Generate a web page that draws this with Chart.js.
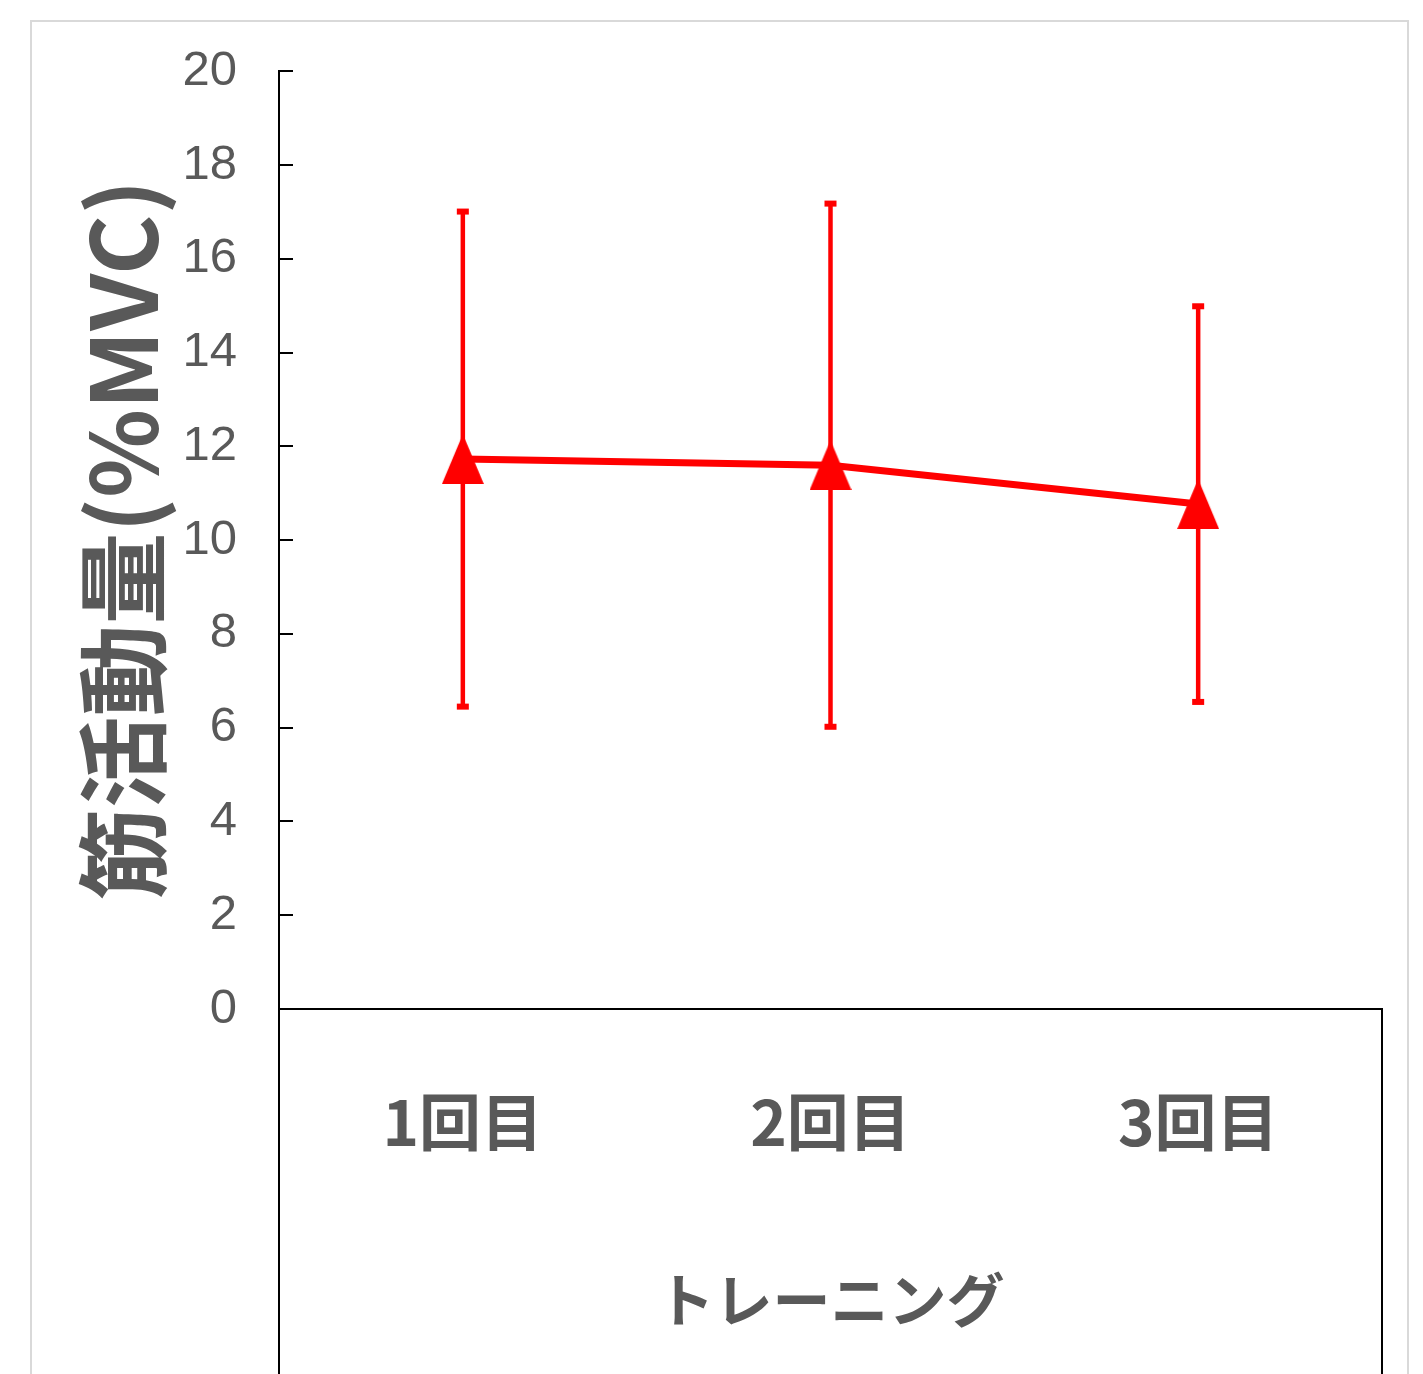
<!DOCTYPE html>
<html lang="ja">
<head>
<meta charset="utf-8">
<title>筋活動量</title>
<script src="https://cdn.jsdelivr.net/npm/chart.js@4.4.1/dist/chart.umd.min.js"></script>
<style>
  html, body { margin: 0; padding: 0; background: #ffffff; }
  #wrap { position: relative; width: 1423px; height: 1374px; overflow: hidden; }
  canvas { display: block; }
</style>
</head>
<body>
<div id="wrap"><canvas id="chart" width="1423" height="1374"></canvas></div>
<script>
// Training sessions and mean muscle activity (%MVC) with standard deviation
const categories = ['1回目', '2回目', '3回目'];
const meanValues = [11.73, 11.6, 10.77];
const sdValues = [5.28, 5.58, 4.22];
const yTickValues = [0, 2, 4, 6, 8, 10, 12, 14, 16, 18, 20];

const RED = '#ff0000';
const GREY_TEXT = '#595959';
const AXIS = '#000000';
const JP_FONT = '"Noto Sans CJK JP", "Noto Sans", sans-serif';
const NUM_FONT = '"Liberation Sans Narrow", "Liberation Sans", sans-serif';

// Tall triangle marker
function makeTriangle(w, h, color) {
  const c = document.createElement('canvas');
  c.width = w; c.height = h;
  const g = c.getContext('2d');
  g.fillStyle = color;
  g.beginPath();
  g.moveTo(w / 2, 0);
  g.lineTo(w, h);
  g.lineTo(0, h);
  g.closePath();
  g.fill();
  return c;
}
const triangle = makeTriangle(42, 50, RED);

// Outer light frame around the chart
const framePlugin = {
  id: 'frame',
  beforeDraw(chart) {
    const ctx = chart.ctx;
    ctx.save();
    ctx.strokeStyle = '#d9d9d9';
    ctx.lineWidth = 2;
    ctx.strokeRect(31, 21, 1377, 1500);
    ctx.restore();
  }
};

// Vertical error bars (mean ± SD) behind the line
const errorBarPlugin = {
  id: 'errorBars',
  beforeDatasetsDraw(chart) {
    const ctx = chart.ctx;
    const xs = chart.scales.x, ys = chart.scales.y;
    ctx.save();
    ctx.strokeStyle = RED;
    ctx.fillStyle = RED;
    ctx.lineWidth = 4.5;
    meanValues.forEach((m, i) => {
      const x = xs.getPixelForValue(i);
      const yTop = ys.getPixelForValue(m + sdValues[i]);
      const yBot = ys.getPixelForValue(m - sdValues[i]);
      ctx.beginPath();
      ctx.moveTo(x, yTop);
      ctx.lineTo(x, yBot);
      ctx.stroke();
      ctx.fillRect(x - 6, yTop - 3, 12, 6);
      ctx.fillRect(x - 6, yBot - 3, 12, 6);
    });
    ctx.restore();
  }
};

// Inward tick marks on the value axis and the category frame below the axis
const axisDecorPlugin = {
  id: 'axisDecor',
  afterDraw(chart) {
    const ctx = chart.ctx;
    const ys = chart.scales.y;
    const area = chart.chartArea;
    ctx.save();
    ctx.strokeStyle = AXIS;
    ctx.lineWidth = 2;
    ys.ticks.forEach(t => {
      const y = Math.round(ys.getPixelForValue(t.value));
      ctx.beginPath();
      ctx.moveTo(area.left, y);
      ctx.lineTo(area.left + 14, y);
      ctx.stroke();
    });
    ctx.beginPath();
    ctx.moveTo(Math.round(area.left), area.bottom);
    ctx.lineTo(Math.round(area.left), chart.height);
    ctx.moveTo(Math.round(area.right), area.bottom);
    ctx.lineTo(Math.round(area.right), chart.height);
    ctx.stroke();
    ctx.restore();
  }
};

new Chart(document.getElementById('chart'), {
  type: 'line',
  data: {
    labels: categories,
    datasets: [{
      data: meanValues,
      borderColor: RED,
      backgroundColor: RED,
      borderWidth: 7,
      pointStyle: triangle,
      pointRadius: 25,
      pointHoverRadius: 25,
      tension: 0,
      clip: false
    }]
  },
  options: {
    responsive: false,
    animation: false,
    events: [],
    layout: { padding: { top: 71, right: 41, bottom: 0, left: 0 } },
    plugins: {
      legend: { display: false },
      tooltip: { enabled: false }
    },
    scales: {
      x: {
        type: 'category',
        offset: true,
        grid: { display: true, drawOnChartArea: false, drawTicks: false, color: 'rgba(0,0,0,0)' },
        border: { display: true, color: AXIS, width: 2 },
        ticks: {
          color: GREY_TEXT,
          padding: 76,
          maxRotation: 0,
          font: { family: JP_FONT, size: 62, weight: 'bold' }
        },
        title: {
          display: true,
          text: 'トレーニング',
          color: GREY_TEXT,
          padding: { top: 0, bottom: 39 },
          font: { family: JP_FONT, size: 58, weight: 'bold' }
        },
        afterFit(scale) { scale.height = 365; }
      },
      y: {
        min: 0,
        max: 20,
        afterBuildTicks(scale) { scale.ticks = yTickValues.map(v => ({ value: v })); },
        grid: { display: true, drawOnChartArea: false, drawTicks: false, color: 'rgba(0,0,0,0)' },
        border: { display: true, color: AXIS, width: 2 },
        ticks: {
          color: GREY_TEXT,
          padding: 42,
          font: { family: NUM_FONT, size: 49 },
          callback: v => String(v)
        },
        title: {
          display: true,
          text: '筋活動量(%MVC)',
          color: GREY_TEXT,
          padding: { top: 68, bottom: 0 },
          font: { family: JP_FONT, size: 92, weight: 'bold' }
        },
        afterFit(scale) { scale.width = 279; }
      }
    }
  },
  plugins: [framePlugin, errorBarPlugin, axisDecorPlugin]
});
</script>
</body>
</html>
